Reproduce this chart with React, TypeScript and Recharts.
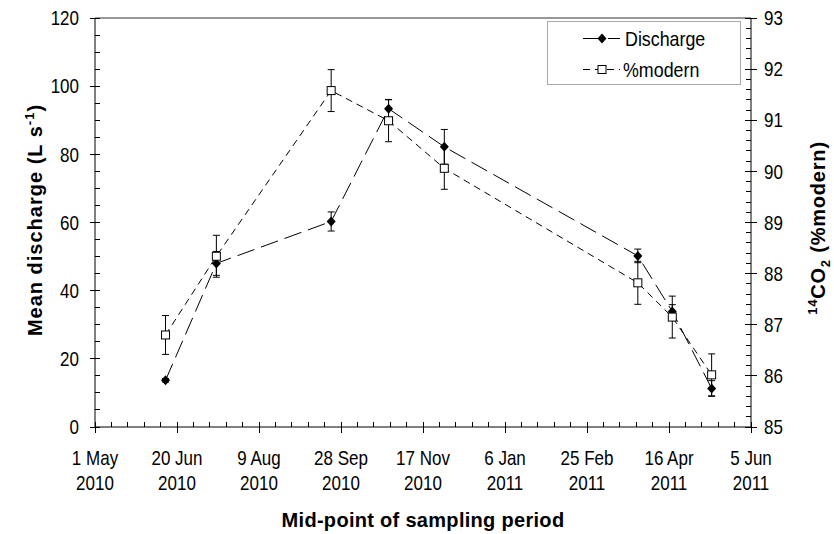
import { LineChart, Line, XAxis, YAxis, ErrorBar, ReferenceLine, Legend } from "recharts";

document.body.style.margin = "0";

// sampling mid-points and measured values
const sampleDates = [
  "2010-06-13",
  "2010-07-14",
  "2010-09-22",
  "2010-10-27",
  "2010-11-30",
  "2011-03-28",
  "2011-04-18",
  "2011-05-12",
];
const discharge = [13.7, 48.0, 60.3, 93.4, 82.2, 50.2, 33.9, 11.3];
const dischargeErr = [0.5, 3.5, 2.8, 2.7, 5.1, 2.0, 2.0, 2.3];
const modern = [86.8, 88.34, 91.58, 90.99, 90.06, 87.82, 87.15, 86.02];
const modernErr = [0.38, 0.41, 0.41, 0.41, 0.41, 0.42, 0.41, 0.41];

const seriesNames = ["Discharge", "%modern"];

const xOrigin = "2010-05-01";
const xMajorStep = 50;
const xMinorStep = 10;
const xTickLabels = [
  ["1 May", "2010"],
  ["20 Jun", "2010"],
  ["9 Aug", "2010"],
  ["28 Sep", "2010"],
  ["17 Nov", "2010"],
  ["6 Jan", "2011"],
  ["25 Feb", "2011"],
  ["16 Apr", "2011"],
  ["5 Jun", "2011"],
];
const leftDomain = [0, 120];
const leftMajor = 20;
const leftMinor = 5;
const rightDomain = [85, 93];
const rightMinor = 0.2;

const FONT = "'Liberation Sans', Arial, sans-serif";

const toDay = (s: string) => (Date.parse(s) - Date.parse(xOrigin)) / 86400000;

const rows = sampleDates.map((d, i) => ({
  day: toDay(d),
  discharge: discharge[i],
  dischargeErr: dischargeErr[i],
  modern: modern[i],
  modernErr: modernErr[i],
}));

const xMax = (xTickLabels.length - 1) * xMajorStep;
const xTicks: number[] = [];
for (let v = 0; v <= xMax; v += xMinorStep) xTicks.push(v);
const leftTicks: number[] = [];
for (let v = leftDomain[0]; v <= leftDomain[1]; v += leftMinor) leftTicks.push(v);
const rightTicks: number[] = [];
const rightCount = Math.round((rightDomain[1] - rightDomain[0]) / rightMinor);
for (let i = 0; i <= rightCount; i++)
  rightTicks.push(Math.round((rightDomain[0] + i * rightMinor) * 10) / 10);

const XTick = (props: any) => {
  const { x, y, payload } = props;
  const v = payload.value;
  if (v % xMajorStep !== 0)
    return <line x1={x} x2={x} y1={y} y2={y - 5} stroke="#000" shapeRendering="crispEdges" />;
  const [l1, l2] = xTickLabels[v / xMajorStep];
  return (
    <g>
      <line x1={x} x2={x} y1={y - 5} y2={y + 6} stroke="#000" shapeRendering="crispEdges" />
      <text
        transform={`translate(${x},${y}) scale(0.85,1)`}
        textAnchor="middle"
        fontSize={20}
        fontFamily={FONT}
        fill="#000"
      >
        <tspan x={0} y={38}>{l1}</tspan>
        <tspan x={0} y={63}>{l2}</tspan>
      </text>
    </g>
  );
};

const LeftTick = (props: any) => {
  const { x, y, payload } = props;
  const v = payload.value;
  if (v % leftMajor !== 0)
    return <line x1={x} x2={x + 5} y1={y} y2={y} stroke="#000" shapeRendering="crispEdges" />;
  return (
    <g>
      <line x1={x - 5} x2={x + 5} y1={y} y2={y} stroke="#000" shapeRendering="crispEdges" />
      <text
        transform={`translate(${x - 16},${y}) scale(0.85,1)`}
        textAnchor="end"
        dy="0.36em"
        fontSize={20}
        fontFamily={FONT}
        fill="#000"
      >
        {v}
      </text>
    </g>
  );
};

const RightTick = (props: any) => {
  const { x, y, payload } = props;
  const v = payload.value;
  if (Math.abs(v - Math.round(v)) > 1e-6)
    return <line x1={x - 5} x2={x} y1={y} y2={y} stroke="#000" shapeRendering="crispEdges" />;
  return (
    <g>
      <line x1={x - 6} x2={x + 6} y1={y} y2={y} stroke="#000" shapeRendering="crispEdges" />
      <text
        transform={`translate(${x + 13},${y}) scale(0.85,1)`}
        textAnchor="start"
        dy="0.36em"
        fontSize={20}
        fontFamily={FONT}
        fill="#000"
      >
        {v}
      </text>
    </g>
  );
};

const Diamond = (props: any) => {
  const { cx, cy } = props;
  if (cx == null || cy == null) return <g />;
  return (
    <polygon
      points={`${cx},${cy - 5} ${cx + 4.5},${cy} ${cx},${cy + 5} ${cx - 4.5},${cy}`}
      fill="#000"
      stroke="none"
    />
  );
};

const Square = (props: any) => {
  const { cx, cy } = props;
  if (cx == null || cy == null) return <g />;
  return (
    <rect x={cx - 4} y={cy - 4} width={8} height={8} fill="#fff" stroke="#000" strokeWidth={1} strokeDasharray="none" />
  );
};

const titleStyle = { fontSize: 20, fontWeight: 700, fontFamily: FONT, fill: "#000" };

const XTitle = (props: any) => {
  const vb = props.viewBox || { x: 95, y: 427, width: 656 };
  return (
    <text x={vb.x + vb.width / 2} y={vb.y + 100} textAnchor="middle" letterSpacing={0.3} style={titleStyle}>
      Mid-point of sampling period
    </text>
  );
};

const LeftTitle = (props: any) => {
  const vb = props.viewBox || { x: 0, y: 18, height: 409 };
  const x = vb.x + 42;
  const y = vb.y + 202;
  return (
    <text x={x} y={y} textAnchor="middle" transform={`rotate(-90, ${x}, ${y})`} letterSpacing={1} style={titleStyle}>
      Mean discharge (L s
      <tspan dy={-8} fontSize={13}>-1</tspan>
      <tspan dy={8}>)</tspan>
    </text>
  );
};

const RightTitle = (props: any) => {
  const vb = props.viewBox || { x: 751, y: 18, height: 409 };
  const x = vb.x + 74;
  const y = vb.y + 210;
  return (
    <text x={x} y={y} textAnchor="middle" transform={`rotate(-90, ${x}, ${y})`} letterSpacing={0.8} style={titleStyle}>
      <tspan dy={-8} fontSize={13}>14</tspan>
      <tspan dy={8}>CO</tspan>
      <tspan dy={5} fontSize={13}>2</tspan>
      <tspan dy={-5}> (%modern)</tspan>
    </text>
  );
};

const LegendBox = () => (
  <div style={{ width: 192, height: 62, border: "1px solid #a8a8a8", background: "#fff" }}>
    <svg width={192} height={62} style={{ display: "block" }}>
      <line x1={35} x2={72} y1={16.5} y2={16.5} stroke="#000" strokeDasharray="18 7" />
      <Diamond cx={54} cy={16.5} />
      <text transform="translate(77,16.5) scale(0.85,1)" dy="0.36em" fontSize={21} fontFamily={FONT} fill="#000">
        {seriesNames[0]}
      </text>
      <line x1={35} x2={72} y1={47.5} y2={47.5} stroke="#000" strokeDasharray="7 5" />
      <Square cx={54} cy={47.5} />
      <text transform="translate(75,47.5) scale(0.85,1)" dy="0.36em" fontSize={21} fontFamily={FONT} fill="#000">
        {seriesNames[1]}
      </text>
    </svg>
  </div>
);

export default function App() {
  return (
    <div style={{ width: 834, height: 534, background: "#fff" }}>
      <LineChart width={834} height={534} data={rows} margin={{ top: 18, right: 0, bottom: 0, left: 0 }}>
        <XAxis
          dataKey="day"
          type="number"
          domain={[0, xMax]}
          ticks={xTicks}
          interval={0}
          tickSize={0}
          tickMargin={0}
          tickLine={false}
          tick={(p: any) => <XTick {...p} />}
          axisLine={{ stroke: "#000" }}
          height={107}
          label={(p: any) => <XTitle {...p} />}
        />
        <YAxis
          yAxisId="left"
          type="number"
          domain={leftDomain}
          allowDataOverflow
          ticks={leftTicks}
          interval={0}
          tickSize={0}
          tickMargin={0}
          tickLine={false}
          tick={(p: any) => <LeftTick {...p} />}
          axisLine={{ stroke: "#000" }}
          width={95}
          label={(p: any) => <LeftTitle {...p} />}
        />
        <YAxis
          yAxisId="right"
          orientation="right"
          type="number"
          domain={rightDomain}
          allowDataOverflow
          ticks={rightTicks}
          interval={0}
          tickSize={0}
          tickMargin={0}
          tickLine={false}
          tick={(p: any) => <RightTick {...p} />}
          axisLine={{ stroke: "#000" }}
          width={83}
          label={(p: any) => <RightTitle {...p} />}
        />
        <ReferenceLine yAxisId="left" y={leftDomain[1]} stroke="#333" />
        <Legend
          layout="horizontal"
          verticalAlign="middle"
          align="center"
          wrapperStyle={{ top: 21, left: 547, width: 194, height: 64 }}
          content={() => <LegendBox />}
        />
        <Line
          yAxisId="left"
          dataKey="discharge"
          name={seriesNames[0]}
          stroke="#000"
          strokeWidth={1}
          strokeDasharray="18 7"
          dot={(p: any) => <Diamond key={p.index} {...p} />}
          activeDot={false}
          isAnimationActive={false}
        >
          <ErrorBar dataKey="dischargeErr" direction="y" width={3.5} stroke="#000" strokeWidth={1} />
        </Line>
        <Line
          yAxisId="right"
          dataKey="modern"
          name={seriesNames[1]}
          stroke="#000"
          strokeWidth={1}
          strokeDasharray="7 5"
          dot={(p: any) => <Square key={p.index} {...p} />}
          activeDot={false}
          isAnimationActive={false}
        >
          <ErrorBar dataKey="modernErr" direction="y" width={3.5} stroke="#000" strokeWidth={1} />
        </Line>
      </LineChart>
    </div>
  );
}
